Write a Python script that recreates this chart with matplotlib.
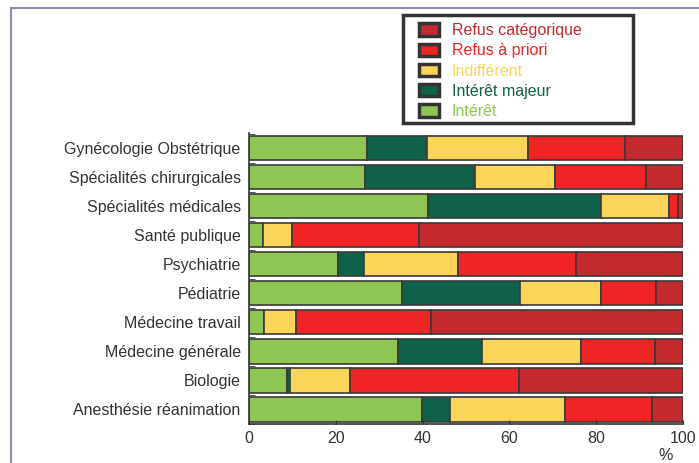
import matplotlib
matplotlib.use("Agg")
import matplotlib.pyplot as plt
from matplotlib.lines import Line2D
from matplotlib.patches import Patch, Rectangle
import numpy as np

# categories, bottom to top
specialites = ["Anesthésie réanimation", "Biologie", "Médecine générale",
               "Médecine travail", "Pédiatrie", "Psychiatrie", "Santé publique",
               "Spécialités médicales", "Spécialités chirurgicales",
               "Gynécologie Obstétrique"]

interet = [39.8, 8.7, 34.3, 3.5, 35.3, 20.4, 3.2, 41.2, 26.7, 27.3]
interet_majeur = [6.4, 0.7, 19.4, 0.0, 27.1, 6.1, 0.0, 39.9, 25.4, 13.6]
indifferent = [26.5, 13.9, 22.8, 7.3, 18.6, 21.7, 6.6, 15.7, 18.4, 23.5]
refus_priori = [20.2, 39.0, 17.0, 31.1, 12.8, 27.1, 29.4, 2.1, 21.0, 22.2]
refus_categ = [7.1, 37.7, 6.5, 58.1, 6.2, 24.7, 60.8, 1.1, 8.5, 13.4]

series = [
    ("Intérêt", interet, "#8dc653"),
    ("Intérêt majeur", interet_majeur, "#10614a"),
    ("Indifférent", indifferent, "#fbd55a"),
    ("Refus à priori", refus_priori, "#ee2425"),
    ("Refus catégorique", refus_categ, "#c22a2e"),
]

xticks = [0, 20, 40, 60, 80, 100]

plt.rcParams["font.family"] = ["Liberation Sans", "DejaVu Sans"]
txt_col = "#333333"
W, H = 699, 463


def fx(px):
    return px / W


def fy(py):
    return 1 - py / H


fig = plt.figure(figsize=(6.99, 4.63), dpi=100)
ax = fig.add_axes([fx(249), fy(424), 434 / W, 291 / H])

y = np.arange(len(specialites))
left = np.zeros(len(specialites))
for nom, vals, col in series:
    vals = np.array(vals)
    ax.barh(y, vals, left=left, height=0.83, color=col,
            edgecolor="#3a3a3a", linewidth=1.2)
    left += vals

ax.set_xlim(0, 100)
ax.set_ylim(-0.48, 9.53)
ax.set_xticks(xticks)
ax.set_xticklabels([str(t) for t in xticks], fontsize=11.5, color=txt_col)
ax.set_yticks(y)
ax.set_yticklabels(specialites, fontsize=11.5, color=txt_col)
ax.set_yticks(np.arange(-0.5, len(specialites), 1), minor=True)
ax.tick_params(axis="y", which="major", length=0, pad=6)
ax.tick_params(axis="y", which="minor", direction="in", length=4, color="#333333")
ax.tick_params(axis="x", direction="in", length=3, color="#333333", pad=5)
for s in ["top", "right"]:
    ax.spines[s].set_visible(False)
for s in ["left", "bottom"]:
    ax.spines[s].set_color("#333333")
    ax.spines[s].set_linewidth(1.2)

fig.text(fx(666), fy(455), "%", fontsize=11.5, color=txt_col,
         ha="center", va="center")

# cadre de la legende, avec ombre
fig.add_artist(Rectangle((fx(405), fy(125)), 230 / W, 108 / H,
                         transform=fig.transFigure, facecolor="#333333",
                         edgecolor="none", zorder=5))
fig.add_artist(Rectangle((fx(403), fy(123)), 230 / W, 108 / H,
                         transform=fig.transFigure, facecolor="white",
                         edgecolor="#333333", linewidth=2.5, zorder=6))

# legende (ordre inverse)
handles = [Patch(facecolor=col, edgecolor="#333333", linewidth=2.5, label=nom)
           for nom, vals, col in series[::-1]]
leg = fig.legend(handles=handles, loc="upper left",
                 bbox_to_anchor=(fx(419), fy(23)),
                 fontsize=11.5, frameon=False,
                 handlelength=1.25, handleheight=0.8, handletextpad=0.8,
                 labelspacing=0.33, borderpad=0.0, borderaxespad=0)
leg.set_zorder(7)
for t, (nom, vals, col) in zip(leg.get_texts(), series[::-1]):
    t.set_color(col)

# cadre partiel a gauche et en haut
fr = "#8c8ca8"
fig.add_artist(Line2D([fx(11), 1], [fy(8), fy(8)],
                      transform=fig.transFigure, color=fr, lw=1.5))
fig.add_artist(Line2D([fx(11), fx(11)], [0, fy(8)],
                      transform=fig.transFigure, color=fr, lw=1.5))

fig.savefig("out.png", dpi=100)
